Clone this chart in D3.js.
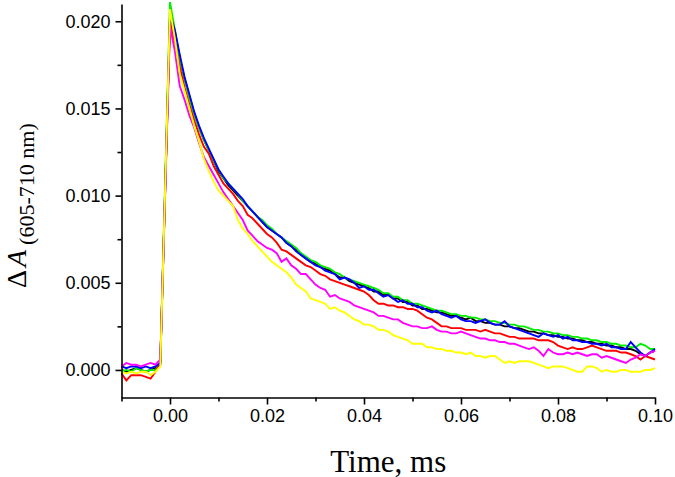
<!DOCTYPE html>
<html>
<head>
<meta charset="utf-8">
<script src="https://cdn.jsdelivr.net/npm/d3@7"></script>
<style>
html,body{margin:0;padding:0;background:#fff;}
svg{display:block;}
</style>
</head>
<body>
<svg id="chart" width="675" height="477"></svg>
<script>
// Time, ms
const times = [
-0.010,-0.009,-0.008,-0.007,-0.006,-0.005,-0.004,-0.003,-0.002,
0.000,0.001,0.002,0.003,0.004,0.005,0.006,0.007,0.008,0.009,0.010,
0.011,0.012,0.013,0.014,0.015,0.016,0.017,0.018,0.019,0.020,
0.021,0.022,0.023,0.024,0.025,0.026,0.027,0.028,0.029,0.030,
0.031,0.032,0.033,0.034,0.035,0.036,0.037,0.038,0.039,0.040,
0.041,0.042,0.043,0.044,0.045,0.046,0.047,0.048,0.049,0.050,
0.051,0.052,0.053,0.054,0.055,0.056,0.057,0.058,0.059,0.060,
0.061,0.062,0.063,0.064,0.065,0.066,0.067,0.068,0.069,0.070,
0.071,0.072,0.073,0.074,0.075,0.076,0.077,0.078,0.079,0.080,
0.081,0.082,0.083,0.084,0.085,0.086,0.087,0.088,0.089,0.090,
0.091,0.092,0.093,0.094,0.095,0.096,0.097,0.098,0.099,0.100];

const blackSeries = [
0.0000,-0.0001,0.0000,0.0001,0.0000,-0.0001,0.0000,0.0001,0.0003,
0.0203,0.0194,0.0179,0.0167,0.0157,0.0147,0.0139,0.0132,0.0126,0.0120,0.0114,
0.0110,0.0106,0.0103,0.0100,0.0097,0.0094,0.0091,0.0088,0.0085,0.0082,
0.0080,0.0078,0.0076,0.0073,0.0071,0.0069,0.0066,0.0064,0.0062,0.0061,
0.0059,0.0058,0.0057,0.0055,0.0053,0.0053,0.0051,0.0050,0.0049,0.0048,
0.0047,0.0045,0.0045,0.0043,0.0043,0.0041,0.0041,0.0039,0.0039,0.0037,
0.0037,0.0035,0.0035,0.0034,0.0033,0.0033,0.0032,0.0031,0.0031,0.0030,
0.0029,0.0030,0.0028,0.0028,0.0027,0.0027,0.0026,0.0026,0.0025,0.0025,
0.0024,0.0024,0.0023,0.0022,0.0022,0.0021,0.0021,0.0020,0.0020,0.0019,
0.0019,0.0018,0.0018,0.0017,0.0017,0.0016,0.0016,0.0015,0.0015,0.0014,
0.0014,0.0013,0.0013,0.0012,0.0012,0.0011,0.0009,0.0008,0.0010,0.0011];

const greenSeries = [
-0.0001,0.0000,-0.0001,0.0001,0.0000,-0.0001,0.0000,0.0000,0.0004,
0.0211,0.0195,0.0179,0.0167,0.0156,0.0146,0.0139,0.0132,0.0126,0.0120,0.0115,
0.0110,0.0107,0.0104,0.0101,0.0097,0.0094,0.0091,0.0088,0.0086,0.0083,
0.0081,0.0078,0.0076,0.0074,0.0072,0.0070,0.0067,0.0065,0.0063,0.0062,
0.0060,0.0059,0.0058,0.0056,0.0055,0.0053,0.0052,0.0051,0.0050,0.0049,
0.0048,0.0047,0.0046,0.0044,0.0044,0.0042,0.0042,0.0040,0.0040,0.0038,
0.0038,0.0037,0.0036,0.0035,0.0034,0.0034,0.0033,0.0032,0.0032,0.0031,
0.0031,0.0030,0.0030,0.0029,0.0029,0.0028,0.0028,0.0027,0.0027,0.0026,
0.0026,0.0025,0.0025,0.0024,0.0023,0.0023,0.0022,0.0022,0.0021,0.0021,
0.0020,0.0020,0.0019,0.0019,0.0018,0.0018,0.0017,0.0017,0.0016,0.0016,
0.0015,0.0015,0.0014,0.0014,0.0013,0.0013,0.0015,0.0014,0.0012,0.0012];

const blueSeries = [
0.0002,0.0001,0.0002,0.0002,0.0001,0.0002,0.0001,0.0002,0.0004,
0.0204,0.0195,0.0181,0.0168,0.0158,0.0148,0.0140,0.0133,0.0127,0.0121,0.0115,
0.0111,0.0107,0.0104,0.0101,0.0098,0.0094,0.0091,0.0088,0.0085,0.0082,
0.0080,0.0078,0.0076,0.0073,0.0071,0.0068,0.0066,0.0064,0.0062,0.0060,
0.0059,0.0057,0.0056,0.0055,0.0052,0.0053,0.0052,0.0050,0.0047,0.0048,
0.0046,0.0046,0.0044,0.0042,0.0043,0.0041,0.0039,0.0040,0.0038,0.0038,
0.0036,0.0036,0.0034,0.0033,0.0034,0.0032,0.0031,0.0030,0.0031,0.0029,
0.0028,0.0028,0.0027,0.0028,0.0029,0.0027,0.0026,0.0026,0.0028,0.0025,
0.0024,0.0023,0.0022,0.0021,0.0020,0.0019,0.0021,0.0020,0.0019,0.0020,
0.0018,0.0019,0.0017,0.0017,0.0016,0.0016,0.0015,0.0015,0.0014,0.0015,
0.0013,0.0013,0.0012,0.0012,0.0016,0.0013,0.0010,0.0008,0.0010,0.0012];

const redSeries = [
-0.0002,-0.0006,-0.0003,-0.0003,-0.0003,-0.0004,-0.0005,-0.0001,0.0004,
0.0200,0.0188,0.0174,0.0162,0.0152,0.0143,0.0135,0.0128,0.0124,0.0117,0.0112,
0.0107,0.0104,0.0101,0.0097,0.0094,0.0089,0.0087,0.0084,0.0081,0.0078,
0.0076,0.0073,0.0069,0.0068,0.0066,0.0064,0.0062,0.0060,0.0059,0.0057,
0.0055,0.0054,0.0052,0.0051,0.0050,0.0049,0.0048,0.0047,0.0046,0.0045,
0.0043,0.0040,0.0038,0.0038,0.0037,0.0037,0.0036,0.0036,0.0035,0.0035,
0.0034,0.0032,0.0030,0.0029,0.0027,0.0025,0.0025,0.0024,0.0024,0.0024,
0.0023,0.0023,0.0023,0.0022,0.0023,0.0022,0.0021,0.0021,0.0020,0.0019,
0.0019,0.0018,0.0018,0.0018,0.0018,0.0017,0.0017,0.0017,0.0016,0.0014,
0.0013,0.0012,0.0013,0.0012,0.0012,0.0013,0.0014,0.0013,0.0012,0.0011,
0.0011,0.0011,0.0010,0.0010,0.0009,0.0008,0.0006,0.0008,0.0007,0.0006];

const magentaSeries = [
0.0002,0.0004,0.0003,0.0003,0.0002,0.0003,0.0004,0.0003,0.0006,
0.0197,0.0183,0.0163,0.0155,0.0146,0.0139,0.0130,0.0122,0.0117,0.0112,0.0107,
0.0102,0.0098,0.0094,0.0090,0.0086,0.0080,0.0077,0.0074,0.0072,0.0070,
0.0069,0.0067,0.0062,0.0064,0.0060,0.0058,0.0055,0.0055,0.0052,0.0049,
0.0047,0.0046,0.0042,0.0043,0.0041,0.0040,0.0039,0.0037,0.0036,0.0035,
0.0034,0.0033,0.0031,0.0031,0.0030,0.0029,0.0029,0.0027,0.0026,0.0025,
0.0025,0.0024,0.0024,0.0025,0.0023,0.0022,0.0022,0.0021,0.0021,0.0022,
0.0021,0.0020,0.0019,0.0018,0.0018,0.0017,0.0017,0.0016,0.0016,0.0015,
0.0015,0.0014,0.0013,0.0012,0.0013,0.0011,0.0008,0.0012,0.0010,0.0009,
0.0009,0.0010,0.0009,0.0010,0.0009,0.0008,0.0009,0.0009,0.0007,0.0008,
0.0007,0.0006,0.0005,0.0004,0.0006,0.0007,0.0009,0.0008,0.0010,0.0011];

const yellowSeries = [
-0.0001,-0.0002,-0.0001,-0.0002,-0.0001,-0.0001,-0.0003,-0.0001,0.0002,
0.0207,0.0190,0.0170,0.0160,0.0150,0.0140,0.0131,0.0121,0.0114,0.0108,0.0103,
0.0100,0.0097,0.0094,0.0086,0.0081,0.0078,0.0074,0.0071,0.0068,0.0065,
0.0062,0.0060,0.0058,0.0056,0.0053,0.0049,0.0047,0.0045,0.0041,0.0040,
0.0039,0.0038,0.0035,0.0036,0.0034,0.0033,0.0031,0.0029,0.0028,0.0026,
0.0026,0.0025,0.0023,0.0023,0.0022,0.0020,0.0019,0.0018,0.0017,0.0015,
0.0015,0.0015,0.0013,0.0013,0.0012,0.0012,0.0011,0.0011,0.0010,0.0010,
0.0009,0.0010,0.0008,0.0008,0.0007,0.0008,0.0008,0.0006,0.0004,0.0005,
0.0004,0.0005,0.0005,0.0005,0.0004,0.0003,0.0002,0.0001,0.0002,0.0002,
0.0002,0.0001,0.0000,-0.0001,-0.0001,0.0002,0.0002,0.0001,-0.0001,0.0000,
-0.0001,-0.0001,0.0000,0.0000,-0.0001,-0.0001,-0.0001,0.0000,0.0000,0.0001];

const seriesNames = ["black","green","red","blue","magenta","yellow"];
const seriesColors = ["#000000","#00ee00","#ff0000","#0000ff","#ff00ff","#ffff00"];
const seriesValues = [blackSeries, greenSeries, redSeries, blueSeries, magentaSeries, yellowSeries];

const xMajorTicks = [0.00, 0.02, 0.04, 0.06, 0.08, 0.10];
const xMinorTicks = [-0.01, 0.01, 0.03, 0.05, 0.07, 0.09];
const yMajorTicks = [0.000, 0.005, 0.010, 0.015, 0.020];
const yMinorTicks = [0.0025, 0.0075, 0.0125, 0.0175];

const xTitle = "Time, ms";
const yTitleDelta = "\u0394";
const yTitleMain = "A";
const yTitleSub = "(605-710 nm)";

(function () {
const svg = d3.select("#chart");
const pLeft = 121.5, pRight = 655, pTop = 4, pBottom = 397.5;

const x = d3.scaleLinear().domain([-0.01, 0.10]).range([pLeft, pRight]);
const y = d3.scaleLinear().domain([-0.00158, 0.02099]).range([pBottom, pTop]);

const sansFont = "'Liberation Sans', Arial, sans-serif";
const serifFont = "'Liberation Serif', 'Times New Roman', serif";

// lines
const line = d3.line().x((d) => x(d[0])).y((d) => y(d[1]));
const gLines = svg.append("g");
seriesValues.forEach((vals, i) => {
  gLines.append("path")
    .datum(times.map((t, k) => [t, vals[k]]))
    .attr("fill", "none")
    .attr("stroke", seriesColors[i])
    .attr("stroke-width", 1.9)
    .attr("stroke-linejoin", "miter")
    .attr("d", line);
});

// x axis
const xAxis = d3.axisBottom(x).tickValues(xMajorTicks).tickSize(7).tickSizeOuter(0)
  .tickFormat(d3.format(".2f"));
const gx = svg.append("g").attr("transform", `translate(0,${pBottom})`).call(xAxis);
gx.select(".domain").attr("stroke", "#000").attr("stroke-width", 1.6);
gx.selectAll(".tick line").attr("stroke", "#000").attr("stroke-width", 1.6);
gx.selectAll(".tick text").attr("font-family", sansFont).attr("font-size", 18)
  .attr("fill", "#000").attr("y", 12).attr("dy", "0.71em");
const gxm = svg.append("g").attr("transform", `translate(0,${pBottom})`)
  .call(d3.axisBottom(x).tickValues(xMinorTicks).tickSize(4).tickSizeOuter(0).tickFormat(""));
gxm.select(".domain").remove();
gxm.selectAll(".tick line").attr("stroke", "#000").attr("stroke-width", 1.6);

// y axis
const yAxis = d3.axisLeft(y).tickValues(yMajorTicks).tickSize(6).tickSizeOuter(0)
  .tickFormat(d3.format(".3f"));
const gy = svg.append("g").attr("transform", `translate(${pLeft},0)`).call(yAxis);
gy.select(".domain").attr("stroke", "#000").attr("stroke-width", 1.6);
gy.selectAll(".tick line").attr("stroke", "#000").attr("stroke-width", 1.6);
gy.selectAll(".tick text").attr("font-family", sansFont).attr("font-size", 18)
  .attr("fill", "#000").attr("x", -11);
const gym = svg.append("g").attr("transform", `translate(${pLeft},0)`)
  .call(d3.axisLeft(y).tickValues(yMinorTicks).tickSize(4).tickSizeOuter(0).tickFormat(""));
gym.select(".domain").remove();
gym.selectAll(".tick line").attr("stroke", "#000").attr("stroke-width", 1.6);

// x title
svg.append("text")
  .attr("x", (pLeft + pRight) / 2).attr("y", 471.5)
  .attr("text-anchor", "middle")
  .attr("font-family", serifFont).attr("font-size", 31)
  .attr("fill", "#000")
  .text(xTitle);

// y title
const yt = svg.append("text")
  .attr("transform", "translate(26,288) rotate(-90)")
  .attr("text-anchor", "start")
  .attr("font-family", serifFont)
  .attr("fill", "#000");
yt.append("tspan").attr("font-size", 28).text(yTitleDelta);
yt.append("tspan").attr("font-size", 28).attr("font-style", "italic").attr("dx", 3).text(yTitleMain);
yt.append("tspan").attr("font-size", 22).attr("dx", 5).attr("dy", 8).text(yTitleSub);
})();
</script>
</body>
</html>
